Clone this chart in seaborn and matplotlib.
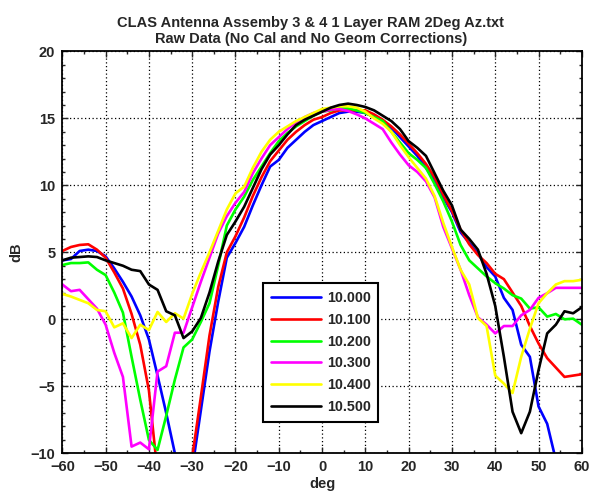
import numpy as np
import pandas as pd
import matplotlib
matplotlib.use('Agg')
import matplotlib.pyplot as plt
import seaborn as sns

# azimuth angles, 2 deg steps
deg = list(range(-60, 61, 2))

freqs = ['10.000', '10.100', '10.200', '10.300', '10.400', '10.500']
colors = ['#0000FF', '#FF0000', '#00FF00', '#FF00FF', '#FFFF00', '#000000']

db_10000 = [4.4, 4.5, 5.1, 5.2, 5.1, 4.7, 3.8, 2.8, 1.7, 0.3, -1.5, -4.2, -7.0, -10.0, -13.0,
            -11.2, -6.8, -2.4, 1.3, 4.6, 5.7, 6.9, 8.5, 10.0, 11.4, 11.9, 12.8, 13.4, 14.0, 14.5,
            14.8, 15.1, 15.4, 15.5, 15.5, 15.4, 15.1, 14.8, 14.3, 13.6, 12.9, 12.2, 11.3, 10.4, 9.1,
            8.0, 6.5, 5.7, 4.9, 3.9, 3.2, 1.6, 0.7, -1.9, -2.8, -6.5, -7.8, -10.5, -13.0, -14.0, -15.0]
db_10100 = [5.1, 5.4, 5.55, 5.6, 5.2, 4.6, 3.5, 2.3, 0.4, -1.9, -5.3, -11.5, -14.0, -15.0, -14.0,
            -10.3, -5.8, -1.2, 2.4, 5.0, 6.2, 7.6, 9.2, 10.6, 11.8, 12.6, 13.4, 14.0, 14.5, 14.9,
            15.1, 15.4, 15.6, 15.6, 15.6, 15.6, 15.3, 14.9, 14.4, 13.8, 13.1, 12.4, 11.6, 10.6, 9.3,
            8.1, 6.7, 5.6, 4.8, 4.2, 3.4, 3.0, 2.0, 1.0, -0.5, -1.8, -2.9, -3.6, -4.3, -4.2, -4.1]
db_10200 = [4.05, 4.2, 4.2, 4.25, 3.7, 3.3, 2.0, 0.5, -2.8, -6.0, -9.0, -9.75, -7.2, -4.5, -2.1,
            -1.5, -0.2, 1.2, 4.0, 7.0, 8.2, 9.15, 10.4, 11.4, 12.4, 13.3, 13.9, 14.4, 14.8, 15.2,
            15.5, 15.6, 15.75, 15.75, 15.6, 15.4, 15.1, 14.8, 14.0, 13.2, 12.4, 11.9, 11.3, 10.1, 8.8,
            7.3, 5.55, 4.4, 3.8, 3.2, 2.7, 2.3, 1.8, 1.55, 0.8, 0.9, 0.2, 0.4, 0.0, 0.05, -0.4]
db_10300 = [2.6, 2.1, 2.2, 1.5, 0.8, -0.4, -2.5, -4.3, -9.5, -9.2, -9.7, -3.9, -3.5, -1.0, -1.0,
            0.9, 2.8, 4.6, 6.4, 7.7, 8.7, 9.5, 10.9, 12.0, 13.0, 13.6, 14.2, 14.7, 15.1, 15.4,
            15.5, 15.65, 15.7, 15.55, 15.3, 15.0, 14.6, 14.2, 13.2, 12.3, 11.5, 11.0, 10.3, 9.1, 6.9,
            5.3, 3.7, 1.8, 0.15, -0.4, -1.05, -0.5, -0.5, 0.3, 0.7, 1.6, 1.95, 2.35, 2.35, 2.35, 2.35]
db_10400 = [1.9, 1.7, 1.45, 1.2, 0.7, 0.6, -0.6, -0.3, -1.4, -0.4, -0.8, 0.55, -0.2, 0.45, 0.05,
            1.9, 3.5, 5.0, 6.6, 8.2, 9.4, 9.9, 11.3, 12.5, 13.4, 14.0, 14.4, 14.8, 15.1, 15.4,
            15.7, 15.8, 15.9, 15.9, 15.8, 15.5, 15.0, 14.6, 14.0, 13.0, 12.1, 11.3, 10.5, 9.2, 7.2,
            5.4, 3.7, 2.6, 0.1, -0.5, -4.2, -4.8, -5.5, -2.8, -0.7, 1.2, 1.95, 2.6, 2.85, 2.85, 2.95]
db_10500 = [4.4, 4.6, 4.65, 4.7, 4.65, 4.4, 4.2, 4.0, 3.7, 3.6, 2.6, 2.2, 0.6, 0.3, -1.4,
            -0.9, 0.1, 2.0, 4.3, 6.3, 7.3, 8.4, 9.8, 11.2, 12.3, 13.0, 13.8, 14.5, 14.9, 15.2,
            15.5, 15.8, 16.0, 16.1, 16.0, 15.85, 15.6, 15.2, 14.8, 14.2, 13.3, 12.8, 12.2, 10.9, 9.6,
            8.5, 6.7, 6.0, 5.2, 3.4, 1.0, -2.8, -6.9, -8.5, -6.9, -3.8, -1.05, -0.4, 0.6, 0.45, 0.9]

series = [db_10000, db_10100, db_10200, db_10300, db_10400, db_10500]
df = pd.concat([pd.DataFrame({'deg': deg, 'dB': s, 'freq': f}) for f, s in zip(freqs, series)],
               ignore_index=True)

sns.set_style('ticks')
plt.rcParams['font.family'] = ['Liberation Sans', 'DejaVu Sans']
plt.rcParams['font.weight'] = 'bold'

fig = plt.figure(figsize=(5.89, 4.98), dpi=100)
ax = fig.add_axes([0.1058, 0.0898, 0.882, 0.807])

sns.lineplot(data=df, x='deg', y='dB', hue='freq', hue_order=freqs,
             palette=dict(zip(freqs, colors)), linewidth=1.9, ax=ax, sort=False)

ax.set_xlim(-60, 60)
ax.set_ylim(-10, 20)
ax.set_xticks(range(-60, 61, 10))
ax.set_yticks(range(-10, 21, 5))
ax.set_xticks(range(-60, 61, 5), minor=True)
ax.set_yticks(range(-10, 21, 1), minor=True)
ax.grid(True, which='major', color='black', linestyle=(0, (1, 2)), linewidth=0.9)
ax.tick_params(which='both', direction='in', top=True, right=True, labelsize=10.5, width=1)
ax.tick_params(which='major', length=4, pad=5)
ax.tick_params(which='minor', length=2)
for lab in ax.get_xticklabels() + ax.get_yticklabels():
    lab.set_fontweight('bold')
for sp in ax.spines.values():
    sp.set_linewidth(1.3)
    sp.set_color('black')

ax.set_xlabel('deg', fontsize=10.5, fontweight='bold', labelpad=2)
ax.set_ylabel('dB', fontsize=10.5, fontweight='bold', labelpad=5)
ax.set_title('CLAS Antenna Assemby 3 & 4 1 Layer RAM 2Deg Az.txt\n'
             'Raw Data (No Cal and No Geom Corrections)',
             fontsize=10.5, fontweight='bold', pad=6, linespacing=1.2,
             x=(311 - 62.3) / 519.7)

leg = ax.legend(loc='upper left', bbox_to_anchor=(263 / 589, 1 - 283 / 498),
                bbox_transform=fig.transFigure, borderaxespad=0, frameon=True,
                fancybox=False, handlelength=3.5, handletextpad=0.4, labelspacing=0.55,
                borderpad=0.55, prop={'size': 10.3, 'weight': 'bold'})
leg.get_frame().set_edgecolor('black')
leg.get_frame().set_linewidth(1.5)
leg.get_frame().set_alpha(1)

fig.savefig('out.png', dpi=100)
